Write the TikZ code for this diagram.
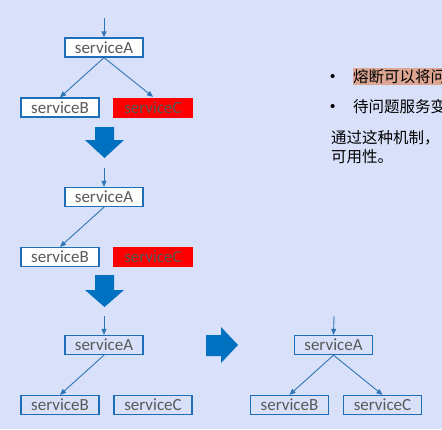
\documentclass[tikz,border=0pt]{standalone}
\usepackage{fontspec}
\setmainfont{Carlito}
\newfontfamily\cjk{Noto Sans CJK SC}
\newfontfamily\bulfont{Liberation Sans}
\usetikzlibrary{arrows.meta}
\definecolor{bgc}{RGB}{217,224,249}
\definecolor{boxblue}{RGB}{31,110,185}
\definecolor{lineblue}{RGB}{46,117,182}
\definecolor{bigblue}{RGB}{0,112,192}
\definecolor{txtgray}{RGB}{89,89,89}
\definecolor{hl}{RGB}{220,166,146}
\tikzset{
  svc/.style={draw=boxblue, line width=1.3pt, fill=white, minimum width=78pt, minimum height=19pt, inner sep=0pt, text=txtgray, font=\fontsize{17}{17}\selectfont},
  svcred/.style={svc, draw=none, fill=red, minimum width=80pt, minimum height=20pt},
  svcbg/.style={svc, fill=none},
  conn/.style={draw=lineblue, line width=0.9pt, -{Triangle[width=5pt,length=6pt]}},
  bigarrow/.style={fill=bigblue, draw=none},
  cjktxt/.style={font=\cjk\fontsize{15.5}{15.5}\selectfont, text=black, inner sep=0pt, anchor=base west},
  bultxt/.style={font=\bulfont\fontsize{15}{15}\selectfont, text=black, inner sep=0pt, anchor=base west}
}
\begin{document}
\begin{tikzpicture}[x=1pt,y=-1pt]
\clip (0,0) rectangle (442,429);
\fill[bgc] (0,0) rectangle (442,429);
% group 1
\node[svc] (a1) at (104,47.5) {serviceA};
\node[svc] (b1) at (60,107.5) {serviceB};
\node[svcred] (c1) at (153,107.5) {serviceC};
\coordinate (t1) at (104,18);
\draw[conn] (t1) -- (a1.north);
\draw[conn] (a1.south) -- (b1.north);
\draw[conn] (a1.south) -- (c1.north);
% big arrow 1
\fill[bigarrow] (95,127) -- (114,127) -- (114,140) -- (124,140) -- (104.5,158) -- (85,140) -- (95,140) -- cycle;
% group 2
\node[svc] (a2) at (104,197) {serviceA};
\node[svc] (b2) at (60,257) {serviceB};
\node[svcred] (c2) at (153,257) {serviceC};
\coordinate (t2) at (104,168);
\draw[conn] (t2) -- (a2.north);
\draw[conn] (a2.south) -- (b2.north);
% big arrow 2
\fill[bigarrow] (95,275) -- (114,275) -- (114,290) -- (124,290) -- (104.5,307) -- (85,290) -- (95,290) -- cycle;
% group 3
\node[svcbg] (a3) at (104,345) {serviceA};
\node[svcbg] (b3) at (60,405) {serviceB};
\node[svcbg] (c3) at (153,405) {serviceC};
\coordinate (t3) at (104,316);
\draw[conn] (t3) -- (a3.north);
\draw[conn] (a3.south) -- (b3.north);
% right arrow
\fill[bigarrow] (206,335) -- (221,335) -- (221,327) -- (238,345) -- (221,363) -- (221,356) -- (206,356) -- cycle;
% group 4
\node[svcbg] (a4) at (333.5,345) {serviceA};
\node[svcbg] (b4) at (289.5,405) {serviceB};
\node[svcbg] (c4) at (382.5,405) {serviceC};
\coordinate (t4) at (334,316);
\draw[conn] (t4) -- (a4.north);
\draw[conn] (a4.south) -- (b4.north);
\draw[conn] (a4.south) -- (c4.north);
% text
\fill[hl] (353,68) rectangle (442,85);
\node[bultxt] (l0b) at (330,81) {•};
\node[cjktxt] (l0) at (353,82) {熔断可以将问};
\node[bultxt] (l1b) at (330,111) {•};
\node[cjktxt] (l1) at (353,112) {待问题服务变};
\node[cjktxt] (l2) at (331,143) {通过这种机制，};
\node[cjktxt] (l3) at (331,162) {可用性。};
\end{tikzpicture}
\end{document}
